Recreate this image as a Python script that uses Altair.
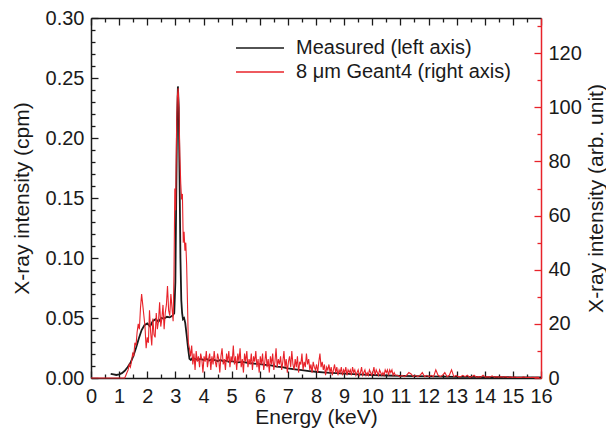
import altair as alt
import pandas as pd

# ---------------- data ----------------
SERIES = ["Measured (left axis)", "8 \u03bcm Geant4 (right axis)"]

meas_e = [0.70, 0.80, 0.90, 1.00, 1.10, 1.20, 1.30, 1.40, 1.50, 1.60, 1.70, 1.80, 1.90, 2.00,
          2.10, 2.20, 2.30, 2.40, 2.50, 2.60, 2.70, 2.80, 2.90, 2.96, 3.00, 3.03, 3.06, 3.09,
          3.12, 3.15, 3.18, 3.21, 3.24, 3.27, 3.31, 3.35, 3.40, 3.45, 3.50, 3.55, 3.60, 3.70,
          3.80, 3.90, 4.00, 4.10, 4.20, 4.30, 4.40, 4.50, 4.60, 4.70, 4.80, 4.90, 5.00, 5.20,
          5.40, 5.60, 5.80, 6.00, 6.20, 6.40, 6.60, 6.80, 7.00, 7.25, 7.50, 7.75, 8.00, 8.25,
          8.50, 8.75, 9.00, 9.50, 10.00, 10.50, 11.00, 11.50, 12.00, 12.50, 13.00, 13.50,
          14.00, 14.50, 15.00, 15.50, 16.00]
meas_v = [0.0035, 0.0030, 0.0025, 0.0030, 0.0040, 0.0060, 0.0090, 0.0125, 0.0180, 0.0250,
          0.0330, 0.0400, 0.0440, 0.0455, 0.0430, 0.0475, 0.0490, 0.0470, 0.0500, 0.0495,
          0.0510, 0.0505, 0.0520, 0.0540, 0.0800, 0.1500, 0.2150, 0.2430, 0.2250, 0.1650,
          0.1000, 0.0650, 0.0540, 0.0490, 0.0500, 0.0460, 0.0360, 0.0250, 0.0160, 0.0150,
          0.0165, 0.0160, 0.0150, 0.0160, 0.0150, 0.0160, 0.0145, 0.0155, 0.0150, 0.0140,
          0.0150, 0.0140, 0.0145, 0.0135, 0.0140, 0.0130, 0.0135, 0.0125, 0.0120, 0.0115,
          0.0110, 0.0105, 0.0095, 0.0090, 0.0080, 0.0072, 0.0065, 0.0058, 0.0052, 0.0047,
          0.0043, 0.0040, 0.0036, 0.0030, 0.0025, 0.0021, 0.0018, 0.0015, 0.0013, 0.0011,
          0.0010, 0.0009, 0.0008, 0.0007, 0.0006, 0.0005, 0.0005]

sim_e = [0.00, 0.40, 0.80, 1.16,
         1.20, 1.24, 1.28, 1.32, 1.36, 1.40, 1.44, 1.48, 1.52, 1.56, 1.60, 1.64, 1.68, 1.72,
         1.76, 1.80, 1.84, 1.88, 1.92, 1.96, 2.00, 2.04, 2.08, 2.12, 2.16, 2.20, 2.24, 2.28,
         2.32, 2.36, 2.40, 2.44, 2.48, 2.52, 2.56, 2.60, 2.64, 2.68, 2.72, 2.76, 2.80, 2.84,
         2.88, 2.92,
         2.95, 2.98, 3.01, 3.04, 3.07, 3.10, 3.13, 3.16, 3.19, 3.22, 3.25, 3.28, 3.31, 3.34,
         3.37, 3.40, 3.43, 3.46,
         3.50, 3.54, 3.58, 3.62, 3.66, 3.70, 3.74, 3.78, 3.82, 3.86, 3.90, 3.94, 3.98,
         4.02, 4.06, 4.10, 4.14, 4.18, 4.22, 4.26, 4.30, 4.34, 4.38, 4.42, 4.46, 4.50,
         4.54, 4.58, 4.62, 4.66, 4.70, 4.74, 4.78, 4.82, 4.86, 4.90, 4.94, 4.98,
         5.02, 5.06, 5.10, 5.14, 5.18, 5.22, 5.26, 5.30, 5.34, 5.38, 5.42, 5.46, 5.50,
         5.54, 5.58, 5.62, 5.66, 5.70, 5.74, 5.78, 5.82, 5.86, 5.90, 5.94, 5.98,
         6.02, 6.06, 6.10, 6.14, 6.18, 6.22, 6.26, 6.30, 6.34, 6.38, 6.42, 6.46, 6.50,
         6.54, 6.58, 6.62, 6.66, 6.70, 6.74, 6.78, 6.82, 6.86, 6.90, 6.94, 6.98,
         7.02, 7.06, 7.10, 7.14, 7.18, 7.22, 7.26, 7.30, 7.34, 7.38, 7.42, 7.46, 7.50,
         7.54, 7.58, 7.62, 7.66, 7.70, 7.74, 7.78, 7.82, 7.86, 7.90, 7.94, 7.98,
         8.02, 8.06, 8.10, 8.14, 8.18, 8.22, 8.26, 8.30, 8.34, 8.38, 8.42, 8.46, 8.50,
         8.54, 8.58, 8.62, 8.66, 8.70, 8.74, 8.78, 8.82, 8.86, 8.90, 8.94, 8.98,
         9.02, 9.06, 9.10, 9.14, 9.18, 9.22, 9.26, 9.30, 9.34, 9.38, 9.42, 9.46, 9.50,
         9.54, 9.58, 9.62, 9.66, 9.70, 9.74, 9.78, 9.82, 9.86, 9.90, 9.94, 9.98,
         10.02, 10.06, 10.10, 10.14, 10.18, 10.22, 10.26, 10.30, 10.34, 10.38, 10.42,
         10.46, 10.50, 10.54, 10.58, 10.62, 10.66, 10.70, 10.74, 10.78, 10.82,
         10.90, 10.98, 11.06, 11.14, 11.22, 11.30, 11.38, 11.46, 11.54, 11.62, 11.70,
         11.78, 11.86, 11.94, 12.02, 12.10, 12.18, 12.26, 12.34, 12.42, 12.50, 12.58,
         12.66, 12.74, 12.82, 12.90, 12.98, 13.06, 13.14, 13.22, 13.30, 13.38, 13.46,
         13.54, 13.62, 13.70, 13.78, 13.86, 13.94, 14.02, 14.10, 14.18, 14.26, 14.34,
         14.42, 14.50, 14.58, 14.66, 14.74, 14.82, 14.90, 14.98, 15.06, 15.14, 15.22,
         15.30, 15.38, 15.46, 15.54, 15.62, 15.70, 15.78, 15.86, 15.94]
sim_v = [0, 0, 0, 0,
         0, 1, 2, 3, 5, 4, 6, 9, 8, 13, 12, 17, 20, 18,
         26, 31, 27, 23, 19, 11, 15, 13, 25, 17, 12, 22, 16, 15,
         24, 18, 21, 28, 19, 22, 27, 18, 24, 27, 34, 25, 23, 31,
         26, 21,
         38, 70, 62, 90, 104, 107, 98, 82, 72, 66, 68, 50, 54, 47,
         50, 42, 28, 13,
         11, 8, 12, 5, 9, 3, 10, 6, 8, 4, 9, 7, 2,
         8, 6, 10, 4, 7, 9, 3, 8, 5, 10, 6, 4, 9,
         7, 2, 8, 11, 5, 7, 3, 9, 6, 10, 4, 8,
         6, 12, 5, 8, 3, 9, 6, 11, 4, 7, 2, 9, 6,
         10, 4, 7, 5, 9, 3, 8, 6, 10, 4, 7, 2,
         8, 5, 9, 3, 6, 10, 4, 7, 2, 8, 5, 9, 3,
         6, 11, 4, 7, 5, 8, 3, 6, 10, 4, 7, 2,
         6, 8, 4, 10, 5, 3, 7, 4, 8, 2, 6, 5, 9,
         3, 6, 4, 9, 5, 7, 3, 5, 2, 6, 4, 3,
         5, 2, 6, 9, 4, 6, 3, 5, 1, 4, 3, 5, 2,
         4, 1, 3, 5, 2, 4, 1, 3, 2, 4, 1, 3,
         2, 4, 1, 3, 2, 3, 1, 4, 2, 3, 1, 2, 3,
         1, 2, 4, 1, 2, 3, 1, 2, 1, 3, 2, 1,
         2, 4, 1, 3, 2, 1, 3, 2, 1, 2, 1,
         3, 2, 3, 1, 3, 2, 3, 1, 2, 1,
         1, 0.5, 1, 0.5, 1, 2, 1.5, 0.5, 1, 0.5, 1,
         2, 0.5, 1, 0.5, 1, 0.5, 3, 1, 0.5, 1, 2,
         0.5, 1, 3, 0.5, 1, 0.5, 0.5, 1, 0.5, 1, 0.3,
         0.5, 1, 0.3, 0.5, 0.3, 1, 0.3, 0.5, 0.3, 0.8, 0.3,
         0.5, 0.3, 0.5, 0.3, 0.5, 0.2, 0.4, 0.2, 0.4, 0.2, 0.3,
         0.2, 0.4, 0.2, 0.3, 0.2, 0.3, 0.2, 0.3, 0.2]

x_major = list(range(0, 17))
x_minor = [0.5, 1.5, 2.5, 3.5, 4.5, 5.5, 6.5, 7.5, 8.5, 9.5, 10.5, 11.5, 12.5, 13.5, 14.5, 15.5]
yl_major = [0.0, 0.05, 0.10, 0.15, 0.20, 0.25, 0.30]
yl_minor = [0.01, 0.02, 0.03, 0.04, 0.06, 0.07, 0.08, 0.09, 0.11, 0.12, 0.13, 0.14,
            0.16, 0.17, 0.18, 0.19, 0.21, 0.22, 0.23, 0.24, 0.26, 0.27, 0.28, 0.29]
yr_major = [0, 20, 40, 60, 80, 100, 120]
yr_minor = [10, 30, 50, 70, 90, 110, 130]

# ---------------- styling ----------------
FONT = "Liberation Sans"
INK = "#1a1a1a"
RED = "#e8232a"
W, H = 450, 360
MAJ, MIN = 7, 4
LBL = 20

df_meas = pd.DataFrame({"E": meas_e, "v": meas_v, "series": SERIES[0]})
df_sim = pd.DataFrame({"E": sim_e, "v": sim_v, "series": SERIES[1]})

xs = alt.Scale(domain=[0, 16], nice=False, zero=False)
yls = alt.Scale(domain=[0, 0.30], nice=False)
yrs = alt.Scale(domain=[0, 133], nice=False)

color = alt.Color(
    "series:N",
    scale=alt.Scale(domain=SERIES, range=[INK, RED]),
    legend=alt.Legend(
        orient="none", legendX=144, legendY=20, title=None,
        symbolType="stroke", symbolSize=2304, symbolStrokeWidth=1.6,
        clipHeight=20, rowPadding=4, padding=0,
        labelFont=FONT, labelFontSize=20, labelColor=INK, labelOffset=11,
        labelLimit=400,
    ),
)


def tick_axis(orient, values, size, col=INK):
    return alt.Axis(orient=orient, values=values, offset=-size, tickSize=size,
                    ticks=True, tickColor=col, tickWidth=1.3, labels=False,
                    domain=False, grid=False, title=None)


def ghost(values):
    return alt.Chart(pd.DataFrame({"t": values})).mark_point(opacity=0, size=1)


# main lines
black = alt.Chart(df_meas).mark_line(strokeWidth=1.8).encode(
    x=alt.X("E:Q", scale=xs, axis=None),
    y=alt.Y("v:Q", scale=yls, axis=alt.Axis(
        orient="left", values=yl_major, format=".2f", ticks=False, tickSize=0,
        labelPadding=7, labelFont=FONT, labelFontSize=LBL, labelColor=INK,
        domain=True, domainColor=INK, domainWidth=1.5, grid=False,
        title="X-ray intensity (cpm)", titleFont=FONT, titleFontSize=21,
        titleFontWeight="normal", titleColor=INK, titleAngle=270,
        titleX=-69, titleBaseline="middle", titleAlign="center")),
    color=color,
)

red = alt.Chart(df_sim).mark_line(strokeWidth=1.1).encode(
    x=alt.X("E:Q", scale=xs, axis=None),
    y=alt.Y("v:Q", scale=yrs, axis=alt.Axis(
        orient="right", values=yr_major, format="d", ticks=False, tickSize=0,
        labelPadding=7, labelFont=FONT, labelFontSize=LBL, labelColor=INK,
        domain=True, domainColor=RED, domainWidth=1.5, grid=False,
        title="X-ray intensity (arb. unit)", titleFont=FONT, titleFontSize=21,
        titleFontWeight="normal", titleColor=INK, titleAngle=270,
        titleX=55, titleBaseline="middle", titleAlign="center")),
    color=color,
)

# axes-only layers (inward ticks, frame)
x_bottom_main = ghost(x_major).encode(x=alt.X("t:Q", scale=xs, axis=alt.Axis(
    orient="bottom", values=x_major, format="d", ticks=False, tickSize=0,
    labelPadding=8, labelFont=FONT, labelFontSize=LBL, labelColor=INK,
    labelFlush=False, labelOverlap=False,
    domain=True, domainColor=INK, domainWidth=1.5, grid=False,
    title="Energy (keV)", titleFont=FONT, titleFontSize=21, titleFontWeight="normal",
    titleColor=INK, titleY=45, titleBaseline="alphabetic")))
x_bottom_maj = ghost(x_major).encode(x=alt.X("t:Q", scale=xs, axis=tick_axis("bottom", x_major, MAJ)))
x_bottom_min = ghost(x_minor).encode(x=alt.X("t:Q", scale=xs, axis=tick_axis("bottom", x_minor, MIN)))
x_top_main = ghost(x_major).encode(x=alt.X("t:Q", scale=xs, axis=alt.Axis(
    orient="top", values=x_major, ticks=False, tickSize=0, labels=False,
    domain=True, domainColor=INK, domainWidth=1.5, grid=False, title=None)))
x_top_maj = ghost(x_major).encode(x=alt.X("t:Q", scale=xs, axis=tick_axis("top", x_major, MAJ)))
x_top_min = ghost(x_minor).encode(x=alt.X("t:Q", scale=xs, axis=tick_axis("top", x_minor, MIN)))

yl_maj = ghost(yl_major).encode(y=alt.Y("t:Q", scale=yls, axis=tick_axis("left", yl_major, MAJ)))
yl_min = ghost(yl_minor).encode(y=alt.Y("t:Q", scale=yls, axis=tick_axis("left", yl_minor, MIN)))
yr_maj = ghost(yr_major).encode(y=alt.Y("t:Q", scale=yrs, axis=tick_axis("right", yr_major, MAJ, RED)))
yr_min = ghost(yr_minor).encode(y=alt.Y("t:Q", scale=yrs, axis=tick_axis("right", yr_minor, MIN, RED)))

left_group = alt.layer(
    black, yl_maj, yl_min,
    x_bottom_main, x_bottom_maj, x_bottom_min, x_top_main, x_top_maj, x_top_min,
).resolve_axis(x="independent", y="independent")

right_group = alt.layer(red, yr_maj, yr_min).resolve_axis(y="independent")

chart = alt.layer(left_group, right_group).resolve_scale(
    y="independent"
).resolve_axis(
    x="independent", y="independent"
).properties(
    width=W, height=H,
    autosize=alt.AutoSizeParams(type="none"),
    padding={"left": 83, "top": 10, "right": 65, "bottom": 52},
).configure(font=FONT).configure_view(stroke=None)

chart.save("out.html", embed_options={"renderer": "svg", "actions": False})
